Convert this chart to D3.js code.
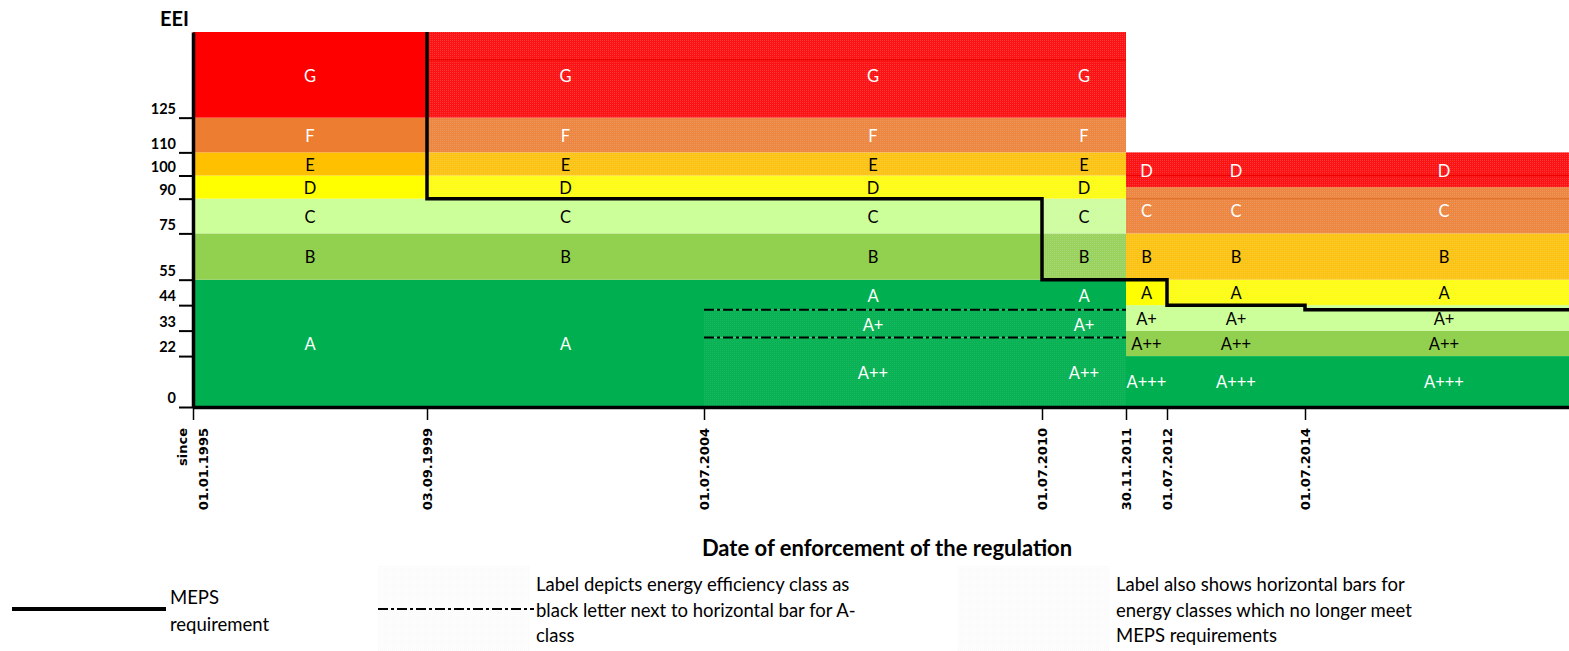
<!DOCTYPE html>
<html><head><meta charset="utf-8">
<script src="https://cdn.jsdelivr.net/npm/d3@7"></script>
<style>body{margin:0;background:#fff} svg{display:block}</style>
</head><body>
<svg id="chart" width="1569" height="651"></svg>
<script>
// ---------- data ----------
const tickDates  = ["1995-01-01","1999-09-03","2004-07-01","2010-07-01","2011-11-30","2012-07-01","2014-07-01"];
const tickLabels = [["since","01.01.1995"],["03.09.1999"],["01.07.2004"],["01.07.2010"],["30.11.2011"],["01.07.2012"],["01.07.2014"]];
const endDate = "2018-01-01";
const yTicks = [0,22,33,44,55,75,90,100,110,125];
const yTop = 162;

// energy classes of each labelling scheme: [class, lower EEI, upper EEI]
const scheme1995 = [["A",0,55],["B",55,75],["C",75,90],["D",90,100],["E",100,110],["F",110,125],["G",125,162]];
const scheme2004 = [["A++",0,30],["A+",30,42],["A",42,55],["B",55,75],["C",75,90],["D",90,100],["E",100,110],["F",110,125],["G",125,162]];
const scheme2010 = [["A+++",0,22],["A++",22,33],["A+",33,44],["A",44,55],["B",55,75],["C",75,95],["D",95,110]];
// scheme in force and MEPS limit for each period (period i starts at tickDates[i])
const periodScheme = ["1995","1995","2004","2004","2010","2010","2010"];
const mepsLimit = [null, 90, 90, 55, 55, 44, 42];
// seams visible inside the hatched bars
const seamValues = [150, 100, 90];

const legendItems = [
  {kind:"meps",  lines:["MEPS","requirement"]},
  {kind:"dash",  lines:["Label depicts energy efficiency class as","black letter next to horizontal bar for A-","class"]},
  {kind:"hatch", lines:["Label also shows horizontal bars for","energy classes which no longer meet","MEPS requirements"]}
];

// ---------- styles ----------
const schemes = {"1995":scheme1995,"2004":scheme2004,"2010":scheme2010};
const colorMap = {
  "1995":{A:"#00B050",B:"#92D050",C:"#CCFF99",D:"#FFFF00",E:"#FFC000",F:"#ED7D31",G:"#FF0000"},
  "2004":{"A++":"#00B050","A+":"#00B050",A:"#00B050",B:"#92D050",C:"#CCFF99",D:"#FFFF00",E:"#FFC000",F:"#ED7D31",G:"#FF0000"},
  "2010":{"A+++":"#00B050","A++":"#92D050","A+":"#CCFF99",A:"#FFFF00",B:"#FFC000",C:"#ED7D31",D:"#FF0000"}
};
const whiteText = {
  "1995":new Set(["A","F","G"]),
  "2004":new Set(["A++","A+","A","F","G"]),
  "2010":new Set(["A+++","C","D"])
};
const FONT = "Lato, 'Open Sans', sans-serif";

const svg = d3.select("#chart");
const defs = svg.append("defs");
const parse = d3.timeParse("%Y-%m-%d");
const dates = tickDates.map(parse);
const allDates = dates.concat([parse(endDate)]);

const x = d3.scaleTime().domain(allDates).range([193, 427, 704, 1042, 1126, 1167, 1305, 1583]);
const y = d3.scaleLinear().domain([0, yTop]).range([407, 32]);

// dotted texture: colour lightly mixed with pale grey
function hatch(color, strength){
  const id = "h" + color.slice(1) + "_" + Math.round(strength * 100);
  if (defs.select("#" + id).empty()){
    const mix = d3.interpolateRgb(color, "#e8e8e8");
    const p = defs.append("pattern").attr("id", id).attr("width", 2).attr("height", 2)
      .attr("patternUnits", "userSpaceOnUse");
    p.append("rect").attr("width", 2).attr("height", 2).attr("fill", mix(strength * 0.7));
    p.append("rect").attr("width", 1).attr("height", 1).attr("fill", mix(Math.min(1, strength * 2)));
  }
  return "url(#" + id + ")";
}

// ---------- bands ----------
const periods = dates.map((d, i) => ({start: d, end: allDates[i + 1], scheme: periodScheme[i], meps: mepsLimit[i]}));
const bands = [];
periods.forEach(p => {
  schemes[p.scheme].forEach(([name, lo, hi]) => {
    const oldBar = p.meps !== null && lo >= p.meps;
    const subA = p.scheme === "2004" && (name === "A+" || name === "A++");
    bands.push({p, name, lo, hi, oldBar, subA,
      color: colorMap[p.scheme][name], white: whiteText[p.scheme].has(name)});
  });
});

const gBands = svg.append("g");
gBands.selectAll("rect").data(bands).join("rect")
  .attr("x", d => x(d.p.start))
  .attr("width", d => x(d.p.end) - x(d.p.start))
  .attr("y", d => y(d.hi))
  .attr("height", d => y(d.lo) - y(d.hi))
  .attr("fill", d => d.oldBar ? hatch(d.color, 0.12) : d.subA ? hatch(d.color, 0.05) : d.color);

// seams inside hatched bars
const seams = [];
bands.filter(b => b.oldBar).forEach(b => seamValues.forEach(v => { if (v > b.lo && v < b.hi) seams.push({b, v}); }));
gBands.selectAll("line").data(seams).join("line")
  .attr("x1", d => x(d.b.p.start)).attr("x2", d => x(d.b.p.end))
  .attr("y1", d => y(d.v)).attr("y2", d => y(d.v))
  .attr("stroke", d => d3.color(d.b.color).darker(0.15)).attr("stroke-width", 1.5);

// band labels
svg.append("g").selectAll("text").data(bands).join("text")
  .attr("x", d => (x(d.p.start) + x(d.p.end)) / 2)
  .attr("y", d => y((d.lo + d.hi) / 2))
  .attr("dy", "0.42em")
  .attr("text-anchor", "middle")
  .attr("font-family", FONT).attr("font-size", 16.5)
  .attr("fill", d => d.white ? "#fff" : "#000")
  .text(d => d.name);

// dash-dot lines: A / A+ / A++ boundaries of the 2004 scheme
const p2004 = periods.filter(p => p.scheme === "2004");
const dashVals = scheme2004.filter(c => c[0] === "A" || c[0] === "A+").map(c => c[1]);
svg.append("g").selectAll("line").data(dashVals).join("line")
  .attr("x1", x(p2004[0].start)).attr("x2", x(p2004[p2004.length - 1].end))
  .attr("y1", d => y(d)).attr("y2", d => y(d))
  .attr("stroke", "#000").attr("stroke-width", 2).attr("stroke-dasharray", "10,3,3,3");

// MEPS step line
const mepsPts = [];
periods.forEach(p => {
  if (p.meps === null) return;
  if (!mepsPts.length) mepsPts.push([x(p.start), y(yTop)]);
  mepsPts.push([x(p.start), y(p.meps)], [x(p.end), y(p.meps)]);
});
svg.append("path").attr("d", d3.line()(mepsPts))
  .attr("fill", "none").attr("stroke", "#000").attr("stroke-width", 3.5).attr("stroke-linejoin", "miter");

// ---------- axes ----------
const yAxis = svg.append("g").attr("transform", "translate(193,0)")
  .call(d3.axisLeft(y).tickValues(yTicks).tickSize(14).tickSizeOuter(0).tickPadding(3));
yAxis.select(".domain").attr("stroke-width", 3.5);
yAxis.selectAll(".tick line").attr("stroke-width", 2);
yAxis.selectAll(".tick text").attr("dy", "-0.3em")
  .attr("font-family", FONT).attr("font-weight", "bold").attr("font-size", 14.5).attr("fill", "#000");

const xAxis = svg.append("g").attr("transform", "translate(0,407)")
  .call(d3.axisBottom(x).tickValues(dates).tickSize(13).tickSizeOuter(0).tickFormat(""));
xAxis.select(".domain").attr("stroke-width", 3.5);
xAxis.selectAll(".tick line").attr("stroke-width", 1.5);

const xl = svg.append("g").selectAll("g").data(dates).join("g")
  .attr("transform", d => `translate(${x(d)},428) rotate(-90)`);
xl.each(function(d, i){
  const lines = tickLabels[i];
  const n = lines.length;
  d3.select(this).selectAll("text").data(lines).join("text")
    .attr("text-anchor", "end")
    .attr("y", (t, j) => (j - (n - 1) / 2) * 21)
    .attr("dy", "0.36em")
    .attr("font-family", "'DejaVu Sans', sans-serif").attr("font-weight", "bold").attr("font-size", 13)
    .attr("fill", "#000")
    .text(t => t);
});

svg.append("text").attr("x", 160).attr("y", 26)
  .attr("font-family", FONT).attr("font-weight", "bold").attr("font-size", 20).text("EEI");

svg.append("text").attr("x", 887).attr("y", 556).attr("text-anchor", "middle")
  .attr("font-family", FONT).attr("font-weight", "bold").attr("font-size", 22)
  .text("Date of enforcement of the regulation");

// ---------- legend ----------
const legendX = [12, 378, 958];
const lg = svg.append("g").selectAll("g").data(legendItems).join("g")
  .attr("transform", (d, i) => `translate(${legendX[i]},0)`);
lg.each(function(d){
  const g = d3.select(this);
  if (d.kind === "meps") {
    g.append("line").attr("x1", 0).attr("x2", 154).attr("y1", 609).attr("y2", 609)
      .attr("stroke", "#000").attr("stroke-width", 4);
    g.selectAll("text").data(d.lines).join("text")
      .attr("x", 158).attr("y", (t, j) => 604 + j * 27)
      .attr("font-family", FONT).attr("font-size", 18.5).text(t => t);
  } else {
    g.append("rect").attr("x", 0).attr("y", 566).attr("width", 152).attr("height", 85)
      .attr("fill", hatch("#ffffff", 0.12));
    if (d.kind === "dash") {
      g.append("line").attr("x1", 0).attr("x2", 156).attr("y1", 609).attr("y2", 609)
        .attr("stroke", "#000").attr("stroke-width", 2).attr("stroke-dasharray", "10,3,3,3");
    }
    g.selectAll("text").data(d.lines).join("text")
      .attr("x", 158).attr("y", (t, j) => 591 + j * 25.5)
      .attr("font-family", FONT).attr("font-size", 18.5).text(t => t);
  }
});
</script>
</body></html>
